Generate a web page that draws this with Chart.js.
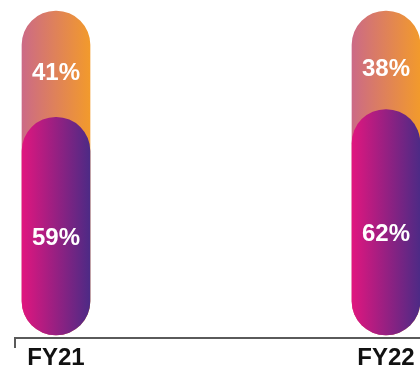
<!DOCTYPE html>
<html>
<head>
<meta charset="utf-8">
<script src="https://cdn.jsdelivr.net/npm/chart.js@4"></script>
<style>
  html, body { margin: 0; padding: 0; background: #fff; }
  #wrap { width: 420px; height: 367px; position: relative; }
</style>
</head>
<body>
<div id="wrap"><canvas id="shareChart"></canvas></div>
<script>
const years = ['FY21', 'FY22'];
const lowerShare = [59, 62];
const upperShare = [41, 38];
const axisMin = -25;
const barWidth = 68;

// full-height pill behind, lower share pill in front
const totals = lowerShare.map((v, i) => v + upperShare[i]);

function barFill(from, to) {
    return (context) => {
        const chart = context.chart;
        const xScale = chart.scales.x;
        if (!chart.chartArea || !xScale) return from;
        const cx = xScale.getPixelForValue(context.dataIndex);
        if (!isFinite(cx)) return from;
        const g = chart.ctx.createLinearGradient(cx - barWidth / 2, 0, cx + barWidth / 2, 0);
        g.addColorStop(0, from);
        g.addColorStop(1, to);
        return g;
    };
}

const shareLabels = {
    id: 'shareLabels',
    afterDatasetsDraw(chart) {
        const ctx = chart.ctx;
        const front = chart.getDatasetMeta(0).data;
        const back = chart.getDatasetMeta(1).data;
        ctx.save();
        ctx.fillStyle = '#ffffff';
        ctx.textAlign = 'center';
        ctx.textBaseline = 'middle';
        ctx.font = 'bold 24px "Liberation Sans", Arial, sans-serif';
        front.forEach((bar, i) => {
            const top = back[i].y;
            const mid = bar.y;
            const base = bar.base;
            ctx.fillText(upperShare[i] + '%', bar.x, (top + mid) / 2 + 9);
            ctx.fillText(lowerShare[i] + '%', bar.x, (mid + base) / 2 + 12);
        });
        ctx.restore();
    }
};

const baseLine = {
    id: 'baseLine',
    afterDraw(chart) {
        const ctx = chart.ctx;
        const y = chart.chartArea.bottom + 3;
        ctx.save();
        ctx.strokeStyle = '#5a5a5a';
        ctx.lineWidth = 2;
        ctx.beginPath();
        ctx.moveTo(15, y + 10);
        ctx.lineTo(15, y);
        ctx.lineTo(chart.width, y);
        ctx.stroke();
        ctx.restore();
    }
};

new Chart(document.getElementById('shareChart'), {
    type: 'bar',
    data: {
        labels: years,
        datasets: [{
            data: lowerShare,
            backgroundColor: barFill('#e0167f', '#4d2a85'),
            base: axisMin,
            grouped: false,
            barThickness: barWidth,
            borderRadius: barWidth / 2,
            borderSkipped: false,
            clip: false
        }, {
            data: totals,
            backgroundColor: barFill('#cc6a86', '#f29a2c'),
            base: axisMin,
            grouped: false,
            barThickness: barWidth,
            borderRadius: barWidth / 2,
            borderSkipped: false,
            clip: false
        }]
    },
    options: {
        responsive: true,
        maintainAspectRatio: false,
        animation: false,
        layout: { padding: { top: 11, left: 56, right: 34, bottom: 0 } },
        plugins: {
            legend: { display: false },
            tooltip: { enabled: false }
        },
        scales: {
            x: {
                offset: false,
                grid: { display: false },
                border: { display: false },
                afterFit: (scale) => {
                    scale.height = 32;
                    scale.paddingLeft = 0;
                    scale.paddingRight = 0;
                },
                ticks: {
                    color: '#111111',
                    padding: 3,
                    maxRotation: 0,
                    font: { family: '"Liberation Sans", Arial, sans-serif', size: 24, weight: 'bold', lineHeight: 1 }
                }
            },
            y: {
                display: false,
                min: axisMin,
                max: 100
            }
        }
    },
    plugins: [shareLabels, baseLine]
});
</script>
</body>
</html>
